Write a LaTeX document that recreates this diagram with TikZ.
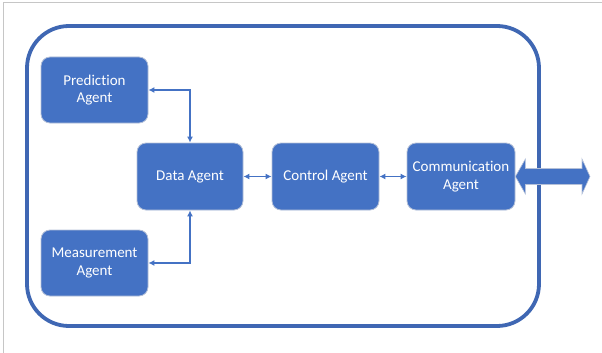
\documentclass[tikz,border=0pt]{standalone}
\usepackage{fontspec}
\setmainfont{Carlito}[Ligatures=NoCommon]
\usetikzlibrary{arrows.meta,calc}
\definecolor{officeblue}{HTML}{4472C4}
\definecolor{outerblue}{HTML}{3F67B3}
\definecolor{edgegray}{HTML}{B4C0D8}
\tikzset{
  agent/.style={draw=edgegray, line width=0.8pt, fill=officeblue, rounded corners=9pt,
    text=white, align=center, font=\fontsize{15}{17.5}\selectfont, inner sep=0pt},
  link/.style={draw=officeblue, line width=1.8pt, {Latex[length=6pt,width=6pt]}-{Latex[length=6pt,width=6pt]}},
}
\begin{document}
\begin{tikzpicture}[x=1pt,y=-1pt]
\useasboundingbox (0,0) rectangle (602,353);
\draw[gray!45, line width=1pt] (3.5,353) -- (3.5,2.5) -- (602,2.5);
\draw[outerblue, line width=3.8pt, rounded corners=42pt] (27,26) rectangle (539,326);
\node[agent, minimum width=107pt, minimum height=66pt] (pred) at (94.5,90) {Prediction\\Agent};
\node[agent, minimum width=107pt, minimum height=66pt] (meas) at (94.5,263) {Measurement\\Agent};
\node[agent, minimum width=106pt, minimum height=67pt] (data) at (190,176.5) {Data Agent};
\node[agent, minimum width=107pt, minimum height=67pt] (ctrl) at (325.5,176.5) {Control Agent};
\node[agent, minimum width=108pt, minimum height=67pt] (comm) at (461,176.5) {Communication\\Agent};
\draw[link] (pred.east) -| (data.north);
\draw[link] (meas.east) -| (data.south);
\draw[link] (data.east) -- (ctrl.west);
\draw[link] (ctrl.east) -- (comm.west);
\coordinate (ext) at (590,176.5);
\draw[draw=edgegray, line width=0.6pt, fill=officeblue]
  (comm.east) -- ($(comm.east)+(10,-17.5)$) -- ($(comm.east)+(10,-8)$)
  -- ($(ext)+(-8,-8)$) -- ($(ext)+(-8,-17.5)$) -- (ext)
  -- ($(ext)+(-8,17.5)$) -- ($(ext)+(-8,8)$)
  -- ($(comm.east)+(10,8)$) -- ($(comm.east)+(10,17.5)$) -- cycle;
\end{tikzpicture}
\end{document}
